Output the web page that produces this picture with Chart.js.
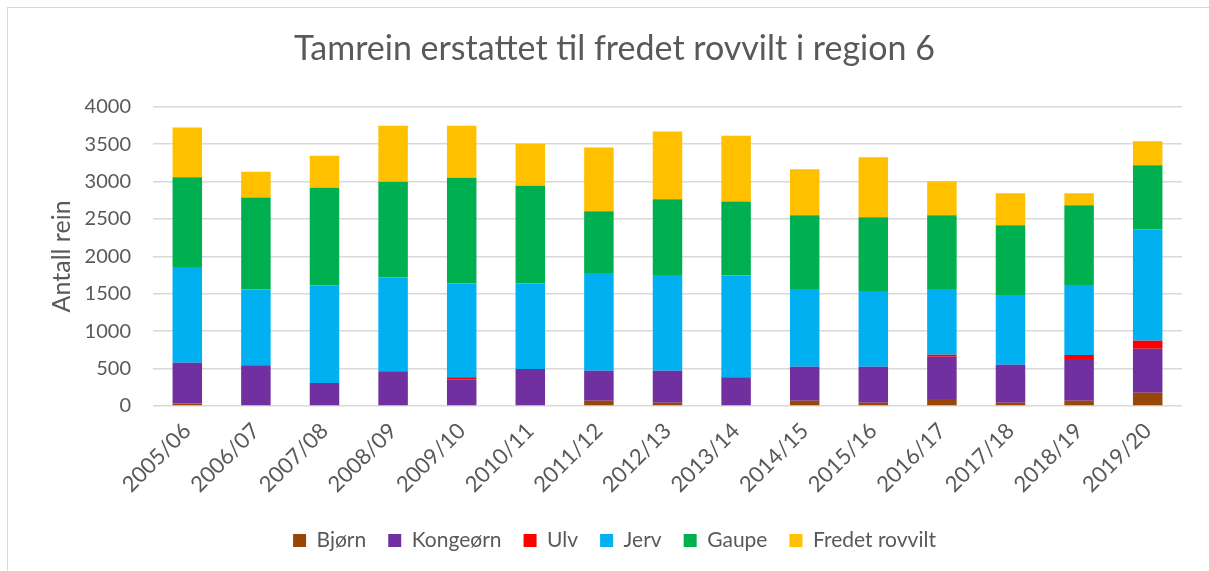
<!DOCTYPE html>
<html>
<head>
<meta charset="utf-8">
<script src="https://cdn.jsdelivr.net/npm/chart.js@4/dist/chart.umd.min.js"></script>
<style>
    html, body { margin: 0; padding: 0; background: #fff; }
    #wrap { position: relative; width: 1209px; height: 571px; overflow: hidden; }
    #frame { position: absolute; left: 7px; top: 7px; width: 1230px; height: 600px; border: 1px solid #d9d9d9; }
    #chartContainer { position: absolute; left: 0; top: 0; }
</style>
</head>
<body>
<div id="wrap">
    <div id="frame"></div>
    <canvas id="chartContainer" width="1209" height="571"></canvas>
</div>
<script>
// Seasons on the x axis
const seasons = ['2005/06', '2006/07', '2007/08', '2008/09', '2009/10', '2010/11', '2011/12', '2012/13',
    '2013/14', '2014/15', '2015/16', '2016/17', '2017/18', '2018/19', '2019/20'];

// Reindeer compensated per predator
const bjorn     = [35, 0, 0, 0, 0, 0, 70, 45, 0, 70, 45, 95, 45, 70, 178];
const kongeorn  = [543, 546, 306, 466, 359, 493, 400, 426, 386, 454, 479, 563, 506, 560, 586];
const ulv       = [0, 0, 0, 0, 27, 0, 0, 0, 0, 0, 0, 26, 0, 53, 107];
const jerv      = [1280, 1013, 1307, 1253, 1253, 1146, 1307, 1280, 1360, 1040, 1014, 880, 933, 934, 1493];
const gaupe     = [1200, 1227, 1306, 1280, 1414, 1307, 826, 1013, 987, 987, 986, 987, 934, 1066, 854];
const fredet    = [666, 347, 427, 747, 693, 560, 854, 907, 880, 613, 800, 453, 426, 160, 320];

const yTicks = [0, 500, 1000, 1500, 2000, 2500, 3000, 3500, 4000];

const grey = '#595959';
const fontFamily = 'Lato, "Open Sans", sans-serif';

function series(label, data, color) {
    return {
        label: label,
        data: data,
        backgroundColor: color,
        borderWidth: 0,
        categoryPercentage: 1,
        barPercentage: 0.43
    };
}

const ctx = document.getElementById('chartContainer').getContext('2d');
new Chart(ctx, {
    type: 'bar',
    data: {
        labels: seasons,
        datasets: [
            series('Bjørn', bjorn, '#974706'),
            series('Kongeørn', kongeorn, '#7030a0'),
            series('Ulv', ulv, '#ff0000'),
            series('Jerv', jerv, '#00b0f0'),
            series('Gaupe', gaupe, '#00b050'),
            series('Fredet rovvilt', fredet, '#ffc000')
        ]
    },
    options: {
        responsive: false,
        animation: false,
        layout: { padding: { left: 47, right: 27, top: 0, bottom: 10 } },
        plugins: {
            title: {
                display: true,
                text: 'Tamrein erstattet til fredet rovvilt i region 6',
                color: grey,
                font: { family: fontFamily, size: 34, weight: 'normal' },
                padding: { top: 29, bottom: 37 }
            },
            legend: {
                position: 'bottom',
                labels: {
                    color: grey,
                    font: { family: fontFamily, size: 21 },
                    boxWidth: 13,
                    boxHeight: 13,
                    padding: 22
                }
            },
            tooltip: { enabled: false }
        },
        scales: {
            x: {
                stacked: true,
                grid: { display: false },
                border: { display: false },
                ticks: {
                    color: grey,
                    font: { family: fontFamily, size: 22 },
                    maxRotation: 45,
                    minRotation: 45,
                    autoSkip: false,
                    padding: 4
                },
                afterFit: s => { s.height = 102; }
            },
            y: {
                stacked: true,
                min: 0,
                max: 4000,
                afterBuildTicks: s => { s.ticks = yTicks.map(v => ({ value: v })); },
                grid: { color: '#d9d9d9', lineWidth: 1.5, drawTicks: false },
                border: { display: false },
                ticks: {
                    color: grey,
                    font: { family: fontFamily, size: 20 },
                    padding: 22,
                    callback: v => String(v)
                },
                title: {
                    display: true,
                    text: 'Antall rein',
                    color: grey,
                    font: { family: fontFamily, size: 25 },
                    padding: 0
                },
                afterFit: s => { s.width = 106; }
            }
        }
    }
});
</script>
</body>
</html>
